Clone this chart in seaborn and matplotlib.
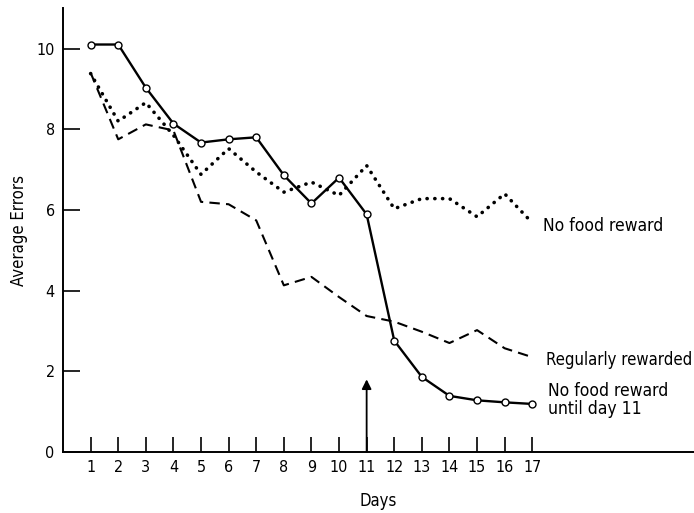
import pandas as pd
import matplotlib
matplotlib.use("Agg")
import matplotlib.pyplot as plt
import seaborn as sns

# ---------------- DATA ----------------
days = list(range(1, 18))

no_reward_until_11 = [10.1, 10.1, 9.03, 8.14, 7.67, 7.75, 7.8, 6.86, 6.16,
                      6.8, 5.89, 2.76, 1.86, 1.39, 1.28, 1.23, 1.19]
no_food_reward = [9.38, 8.2, 8.66, 7.85, 6.88, 7.52, 6.94, 6.44, 6.69,
                  6.36, 7.1, 6.03, 6.28, 6.28, 5.83, 6.4, 5.68]
regularly_rewarded = [9.4, 7.75, 8.12, 7.97, 6.2, 6.14, 5.74, 4.13, 4.34,
                      3.84, 3.37, 3.23, 2.98, 2.7, 3.02, 2.57, 2.35]

y_ticks = [0, 2, 4, 6, 8, 10]

df = pd.DataFrame({
    "Days": days,
    "until11": no_reward_until_11,
    "nofood": no_food_reward,
    "regular": regularly_rewarded,
})

# ---------------- STYLE ----------------
sns.set_style("ticks")
plt.rcParams['font.family'] = ['DejaVu Sans']
plt.rcParams['font.stretch'] = 'condensed'
plt.rcParams['text.color'] = 'black'
plt.rcParams['axes.labelcolor'] = 'black'
plt.rcParams['xtick.color'] = 'black'
plt.rcParams['ytick.color'] = 'black'
plt.rcParams['axes.edgecolor'] = 'black'

fig = plt.figure(figsize=(6.94, 5.13), dpi=100)
ax = fig.add_axes([0.0908, 0.119, 0.9092, 0.865])

# ---------------- LINES ----------------
sns.lineplot(data=df, x="Days", y="nofood", ax=ax, color="black",
             linewidth=2.6, dashes=False, legend=False)
ax.lines[-1].set_linestyle((0, (0.05, 2.1)))
ax.lines[-1].set_dash_capstyle("round")

sns.lineplot(data=df, x="Days", y="regular", ax=ax, color="black",
             linewidth=1.5, legend=False)
ax.lines[-1].set_linestyle((0, (5, 3)))

sns.lineplot(data=df, x="Days", y="until11", ax=ax, color="black",
             linewidth=1.7, marker="o", markersize=5,
             markerfacecolor="white", markeredgecolor="black",
             markeredgewidth=1.0, legend=False)

# arrow at day 11
ax.annotate("", xy=(11, 1.8), xytext=(11, 0),
            arrowprops=dict(arrowstyle="-|>", color="black", lw=1.3,
                            mutation_scale=14, shrinkA=0, shrinkB=0))

# line labels
ax.text(17.38, 5.6, "No food reward", fontsize=12.5, va="center")
ax.text(17.5, 2.28, "Regularly rewarded", fontsize=12, va="center")
ax.text(17.56, 1.3, "No food reward\nuntil day 11", fontsize=12.5,
        va="center", linespacing=1.0)

# ---------------- AXES ----------------
ax.set_xlim(0, 22.86)
ax.set_ylim(0, 11)
ax.set_xticks(days)
ax.set_yticks(y_ticks)
ax.tick_params(axis="x", direction="in", length=11, width=1.2,
               labelsize=11.5, pad=6)
ax.tick_params(axis="y", direction="in", length=12, width=1.2,
               labelsize=11.5, pad=6)
for side in ["top", "right"]:
    ax.spines[side].set_visible(False)
for side in ["left", "bottom"]:
    ax.spines[side].set_linewidth(1.4)

ax.set_xlabel("Days", fontsize=12, labelpad=12)
ax.set_ylabel("Average Errors", fontsize=12, labelpad=6)

fig.savefig("out.png", dpi=100)
